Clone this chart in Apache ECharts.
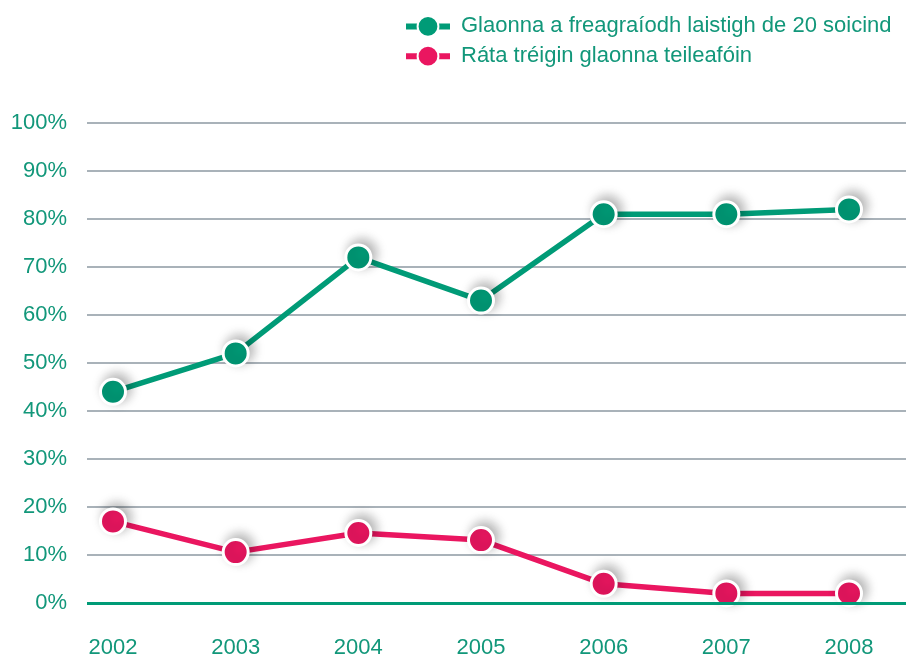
<!DOCTYPE html>
<html><head><meta charset="utf-8">
<script src="https://cdn.jsdelivr.net/npm/echarts@6/dist/echarts.min.js"></script>
<style>html,body{margin:0;padding:0;background:#fff}#c{width:906px;height:655px}</style>
</head><body><div id="c"></div>
<script>
const years = ['2002','2003','2004','2005','2006','2007','2008'];
const answered = [44, 52, 72, 63, 81, 81, 82];
const abandoned = [17, 10.6, 14.6, 13.1, 4, 2, 2];
const seriesNames = ['Glaonna a freagraíodh laistigh de 20 soicind', 'Ráta tréigin glaonna teileafóin'];
const green = '#009B77', red = '#EA1660', textColor = '#12977a';
const font = 'Liberation Sans, Arial, sans-serif';
const chart = echarts.init(document.getElementById('c'));
function mk(name, data, color){
  return {name, type:'line', data, xAxisIndex:1, yAxisIndex:1, symbol:'circle', symbolSize:25,
    lineStyle:{color, width:5.5}, itemStyle:{color, borderColor:'#fff', borderWidth:3,
      shadowColor:'rgba(0,0,0,0.3)', shadowBlur:12, shadowOffsetX:4, shadowOffsetY:-4},
    emphasis:{disabled:true}, z:3};
}
chart.setOption({
  animation:false,
  legend:{orient:'vertical', left:398, top:10, itemWidth:44, itemHeight:26, itemGap:7,
    lineStyle:{width:6},
    textStyle:{color:textColor, fontSize:22, fontFamily:font, padding:[0,0,0,6]},
    data:seriesNames},
  grid:[
    {left:87, right:0, top:123, bottom:52, containLabel:false, outerBoundsMode:'none'},
    {left:113, right:57, top:123, bottom:52, containLabel:false, outerBoundsMode:'none'}
  ],
  xAxis:[
    {type:'category', gridIndex:0, data:years, show:false},
    {type:'category', gridIndex:1, data:years, boundaryGap:false,
     axisLine:{show:false}, axisTick:{show:false},
     axisLabel:{color:textColor, fontSize:22, fontFamily:font, margin:34}}
  ],
  yAxis:[
    {type:'value', gridIndex:0, min:0, max:100, interval:10,
     axisLabel:{formatter:'{value}%', color:textColor, fontSize:22, fontFamily:font, margin:20, padding:[3,0,0,0]},
     axisLine:{show:false}, axisTick:{show:false},
     splitLine:{lineStyle:{color:'#a9b2b9', width:2}}},
    {type:'value', gridIndex:1, min:0, max:100, show:false}
  ],
  series:[
    mk(seriesNames[0], answered, green),
    mk(seriesNames[1], abandoned, red),
    {type:'line', xAxisIndex:0, yAxisIndex:0, data:[], silent:true,
     markLine:{silent:true, symbol:'none', label:{show:false},
       lineStyle:{color:green, width:3, type:'solid'}, data:[{yAxis:0}]}, z:2}
  ]
});
</script></body></html>
